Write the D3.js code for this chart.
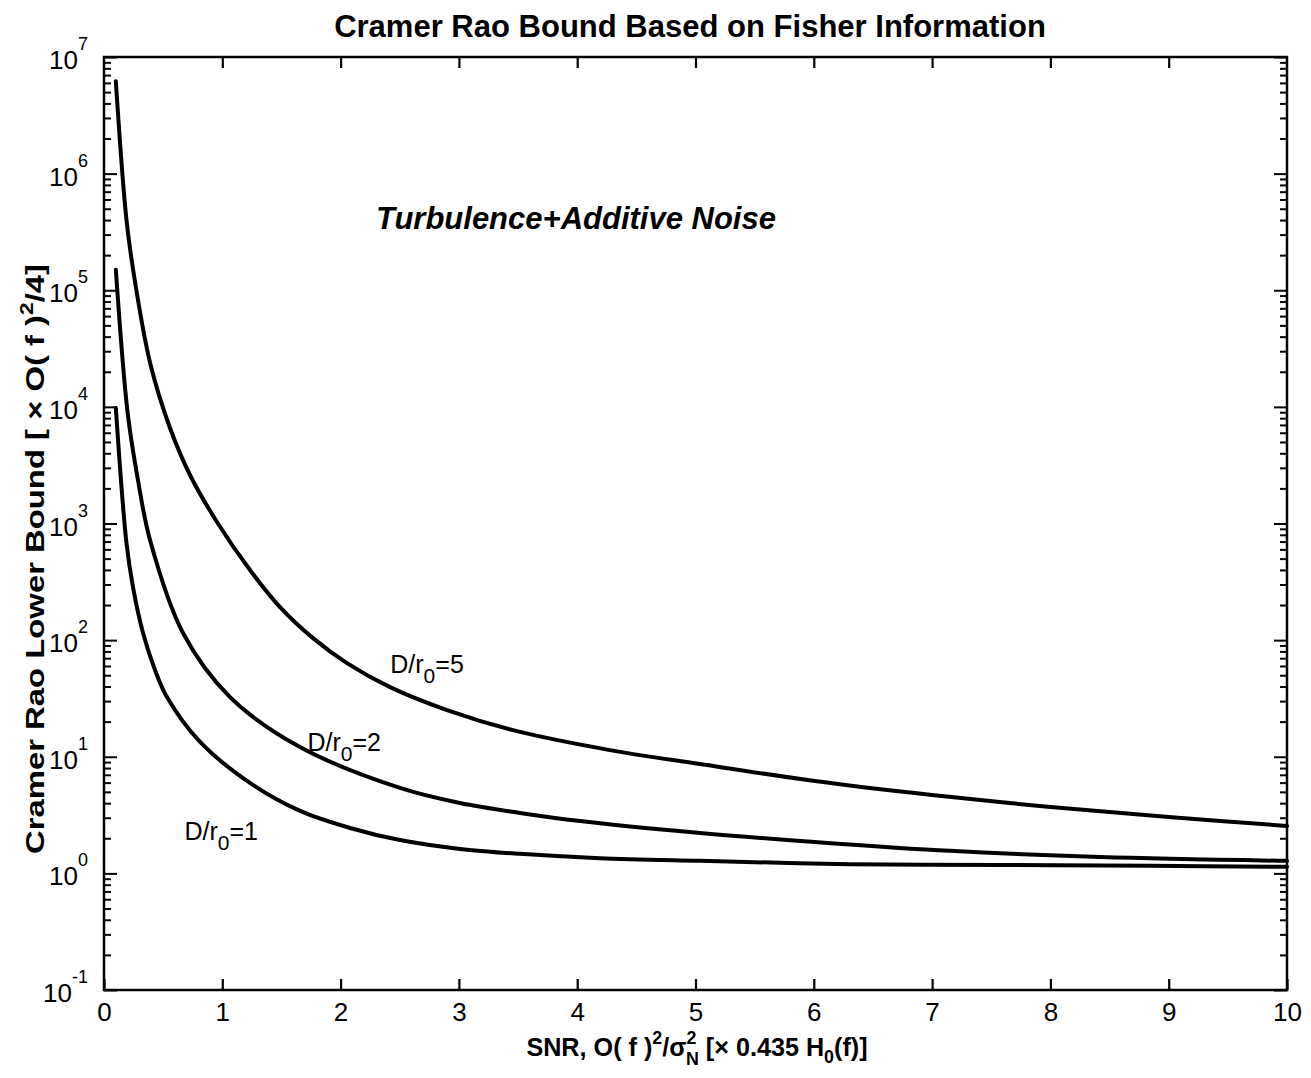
<!DOCTYPE html>
<html><head><meta charset="utf-8">
<script src="https://cdn.jsdelivr.net/npm/d3@7"></script>
<style>
body{margin:0;background:#fff}
text{font-family:"Liberation Sans",Arial,Helvetica,sans-serif;fill:#000}
</style></head>
<body><svg id="c" width="1311" height="1078"></svg>
<script>
// ---- data ----
const xTickValues = [0,1,2,3,4,5,6,7,8,9,10];
const yExponents = [-1,0,1,2,3,4,5,6,7];

const snrD5 = [0.1,0.19,0.26,0.39,0.558,0.727,0.955,1.234,1.488,1.767,2.054,2.418,2.90,3.457,4.277,5.038,6.01,7.0,8.0,9.0,10];
const crbD5 = [6.2e6,4.0e5,1.22e5,2.38e4,6590,2606,1030,399,192,104,63.5,39.5,25.1,16.9,11.4,8.67,6.2,4.7,3.71,3.04,2.55];

const snrD2 = [0.1,0.2,0.287,0.389,0.668,1.065,1.657,2.502,3.009,3.516,4.024,5.038,6.01,7.15,8.42,10];
const crbD2 = [1.5e5,8850,2360,721,115,32.5,12.1,5.40,4.01,3.30,2.81,2.22,1.86,1.56,1.38,1.28];

const snrD1 = [0.1,0.19,0.245,0.33,0.431,0.532,0.812,1.234,1.657,2.08,2.502,3.01,3.516,4.19,5.04,6.31,7.57,8.84,10];
const crbD1 = [9800,680,285,115,55.5,32.5,13.4,5.96,3.43,2.45,1.93,1.62,1.47,1.35,1.28,1.20,1.18,1.16,1.14];

const curveLabels = [
  {name:"D/r", sub:"0", rest:"=5", sx:2.42, sy:52},
  {name:"D/r", sub:"0", rest:"=2", sx:1.72, sy:11.3},
  {name:"D/r", sub:"0", rest:"=1", sx:0.68, sy:1.95}
];

// ---- layout ----
const L=104, R=1287, T=57, B=990;
const svg = d3.select("#c");
const x = d3.scaleLinear().domain([0,10]).range([L,R]);
const y = d3.scaleLog().domain([0.1,1e7]).range([B,T]);

// frame
svg.append("rect").attr("x",L).attr("y",T).attr("width",R-L).attr("height",B-T)
  .attr("fill","none").attr("stroke","#000").attr("stroke-width",2.5);

// x ticks (bottom and top, inward)
const gx = svg.append("g").attr("transform",`translate(0,${B})`)
  .call(d3.axisBottom(x).tickValues(xTickValues).tickSize(-11).tickPadding(13).tickFormat(d3.format("d")));
gx.select(".domain").remove();
gx.selectAll("line").attr("stroke-width",2.2);
gx.selectAll("text").attr("font-size",26).attr("font-family","Liberation Sans, Arial, sans-serif");

const gxt = svg.append("g").attr("transform",`translate(0,${T})`)
  .call(d3.axisTop(x).tickValues(xTickValues.slice(1,-1)).tickSize(-11).tickFormat(""));
gxt.select(".domain").remove();
gxt.selectAll("line").attr("stroke-width",2.2);

// y ticks major/minor, left and right
const majors = yExponents.map(e=>Math.pow(10,e));
const minors = [];
yExponents.slice(0,-1).forEach(e=>{ for(let k=2;k<=9;k++) minors.push(k*Math.pow(10,e)); });

function yAxis(gen, tx, vals, size){
  const g = svg.append("g").attr("transform",`translate(${tx},0)`)
    .call(gen(y).tickValues(vals).tickSize(-size).tickFormat(""));
  g.select(".domain").remove();
  g.selectAll("line").attr("stroke-width",2);
  return g;
}
yAxis(d3.axisLeft, L, majors, 13);
yAxis(d3.axisLeft, L, minors, 7);
yAxis(d3.axisRight, R, majors, 13);
yAxis(d3.axisRight, R, minors, 7);

// y tick labels 10^e
const yl = svg.append("g");
yExponents.forEach(e=>{
  const t = yl.append("text").attr("x",L-16).attr("y",y(Math.pow(10,e))+12)
    .attr("text-anchor","end").attr("font-size",26);
  t.append("tspan").text("10");
  t.append("tspan").attr("dy",-19).attr("font-size",18).text(String(e));
});

// curves
const line = d3.line().x(d=>x(d[0])).y(d=>y(d[1])).curve(d3.curveCatmullRom.alpha(0.5));
[[snrD5,crbD5],[snrD2,crbD2],[snrD1,crbD1]].forEach(([xs,ys])=>{
  svg.append("path").datum(xs.map((v,i)=>[v,ys[i]]))
    .attr("d",line).attr("fill","none").attr("stroke","#000")
    .attr("stroke-width",4).attr("stroke-linejoin","round").attr("stroke-linecap","round");
});

// curve labels
curveLabels.forEach(c=>{
  const t = svg.append("text").attr("x",x(c.sx)).attr("y",y(c.sy)).attr("font-size",25);
  t.append("tspan").text(c.name);
  t.append("tspan").attr("dy",10).attr("font-size",21).text(c.sub);
  t.append("tspan").attr("dy",-10).text(c.rest);
});

// helper: build a text at size s, then rescale so it spans a target length
function fitted(build, target){
  let s = 24;
  let t = build(s);
  const len = t.node().getComputedTextLength();
  t.remove();
  return build(s*target/len);
}

// annotation
fitted(s => svg.append("text").attr("x",576).attr("y",229).attr("text-anchor","middle")
  .attr("font-size",s).attr("font-weight","bold").attr("font-style","italic")
  .text("Turbulence+Additive Noise"), 400);

// title
fitted(s => svg.append("text").attr("x",690).attr("y",37).attr("text-anchor","middle")
  .attr("font-size",s).attr("font-weight","bold")
  .text("Cramer Rao Bound Based on Fisher Information"), 712);

// x label
fitted(s => {
  const k = s/24;
  const xl = svg.append("text").attr("x",697).attr("y",1056).attr("text-anchor","middle")
    .attr("font-size",s).attr("font-weight","bold");
  xl.append("tspan").text("SNR, O( f )");
  xl.append("tspan").attr("dy",-11*k).attr("font-size",17*k).text("2");
  xl.append("tspan").attr("dy",11*k).text("/σ");
  xl.append("tspan").attr("dy",-11*k).attr("font-size",17*k).text("2");
  xl.append("tspan").attr("dx",-10*k).attr("dy",20*k).attr("font-size",17*k).text("N");
  xl.append("tspan").attr("dy",-9*k).text(" [× 0.435 H");
  xl.append("tspan").attr("dy",7*k).attr("font-size",17*k).text("0");
  xl.append("tspan").attr("dy",-7*k).text("(f)]");
  return xl;
}, 352);

// y label: 26px bold, stretched along its baseline to the reference length
const ylg = svg.append("g").attr("transform","translate(44,559) rotate(-90)");
const ylab = ylg.append("text").attr("text-anchor","middle").attr("font-size",26).attr("font-weight","bold");
ylab.append("tspan").text("Cramer Rao Lower Bound [ × O( f )");
ylab.append("tspan").attr("dy",-11).attr("font-size",18).text("2");
ylab.append("tspan").attr("dy",11).text("/4]");
const ylen = ylab.node().getComputedTextLength();
ylab.attr("transform",`scale(${590/ylen},1)`);
</script></body></html>
